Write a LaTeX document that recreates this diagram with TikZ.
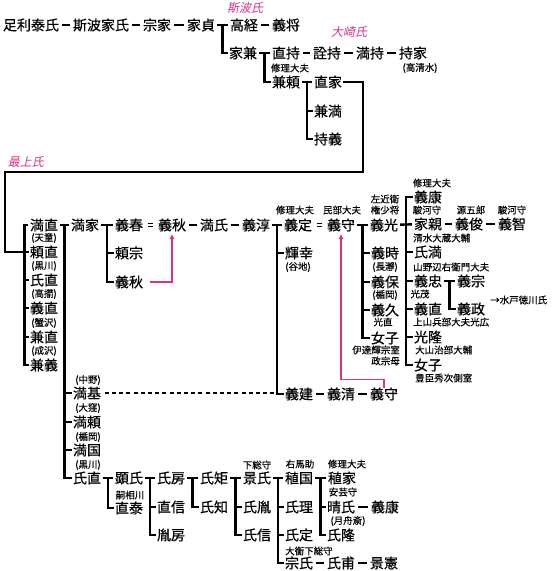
\documentclass[tikz,border=0pt]{standalone}
\usepackage{fontspec}
\setmainfont{Noto Sans CJK JP}
\newfontfamily\namefont[FakeBold=0.5]{Noto Sans CJK JP}
\newfontfamily\notefont[FakeBold=0.3]{Noto Sans CJK JP}
\newfontfamily\clanfont[FakeSlant=0.2]{Noto Sans CJK JP}
\usetikzlibrary{calc,arrows.meta}
\definecolor{clanpink}{RGB}{214,51,132}
\tikzset{
  nm/.style={inner sep=0.5pt, font=\namefont\fontsize{14}{14}\selectfont},
  sm/.style={inner sep=0pt, font=\notefont\fontsize{9.5}{10}\selectfont},
  clan/.style={inner sep=0pt, text=clanpink, font=\clanfont\fontsize{12}{12}\selectfont},
  ln/.style={line width=2.4pt},
  bar/.style={line width=2.4pt, shorten <=1.5pt, shorten >=1.5pt},
  link/.style={line width=2.6pt, shorten <=2.5pt, shorten >=2.5pt},
  adopt/.style={double, double distance=2.2pt, line width=0.7pt, shorten <=4pt, shorten >=4pt},
  pinkln/.style={draw=clanpink, line width=1.2pt},
}

\begin{document}
\begin{tikzpicture}[x=1pt,y=-1pt]
  \useasboundingbox (0,0) rectangle (553,571);

  % Shiba and Osaki
  \node[nm] (yasuUji) at (31,25) {足利泰氏};
  \node[nm] (ieUji) at (101,25) {斯波家氏};
  \node[nm] (muneIe) at (157,25) {宗家};
  \node[nm] (ieSada) at (201,25) {家貞};
  \node[nm] (takaTsune) at (244,25) {高経};
  \node[nm] (yoshiMasa) at (286,25) {義将};
  \node[nm] (ieKane) at (243,53) {家兼};
  \node[nm] (naoMochi) at (286,53) {直持};
  \node[nm] (akiMochi) at (327,53) {詮持};
  \node[nm] (mitsuMochi) at (370,53) {満持};
  \node[nm] (mochiIe) at (413,53) {持家};
  \node[nm] (kaneYori) at (286,82) {兼頼};
  \node[nm] (naoIe) at (328,82) {直家};
  \node[nm] (kaneMitsu) at (328,111) {兼満};
  \node[nm] (mochiYoshi) at (328,139) {持義};
  \node[clan] (shibaLab) at (245,8) {斯波氏};
  \node[clan] (osakiLab) at (349,32) {大崎氏};
  \node[sm] (takaShimizu) at (420,68) {(高清水)};
  \node[sm] (shuriA) at (290,68) {修理大夫};

  % Mogami
  \node[clan] (mogamiLab) at (26,162) {最上氏};
  \node[nm] (mitsuNao) at (44,225) {満直};
  \node[nm] (yoriNao) at (44,252) {頼直};
  \node[nm] (ujiNao) at (44,280) {氏直};
  \node[nm] (yoshiNao) at (44,308) {義直};
  \node[nm] (kaneNao) at (44,337) {兼直};
  \node[nm] (kaneYoshi) at (44,365) {兼義};
  \foreach \y/\lab in {238/天童,266/黒川,294/高擶,323/蟹沢,351/成沢}
    \node[sm] at (44,\y) {(\lab)};
  \node[nm] (mitsuIe) at (85,225) {満家};
  \node[nm] (mitsuMoto) at (87,393) {満基};
  \node[nm] (mitsuYori) at (87,422) {満頼};
  \node[nm] (mitsuKuni) at (87,450) {満国};
  \node[nm] (ujiNaoB) at (87,478) {氏直};
  \foreach \y/\lab in {380/中野,408/大窪,437/楯岡,465/黒川}
    \node[sm] at (88,\y) {(\lab)};
  \node[nm] (yoshiHaru) at (129,225) {義春};
  \node[nm] (yoriMune) at (129,253) {頼宗};
  \node[nm] (yoshiAkiB) at (129,282) {義秋};
  \node[nm] (yoshiAki) at (172,225) {義秋};
  \node[nm] (mitsuUji) at (214,225) {満氏};
  \node[nm] (yoshiAtsu) at (256,225) {義淳};
  \node[nm] (yoshiSada) at (298,225) {義定};
  \node[nm] (yoshiMori) at (341,225) {義守};
  \node[nm] (yoshiAkiM) at (384,225) {義光};
  \node[nm] (teruYuki) at (299,253) {輝幸};
  \node[sm] at (298,267) {(谷地)};
  \node[nm] (yoshiTate) at (299,394) {義建};
  \node[nm] (yoshiKiyo) at (341,394) {義清};
  \node[nm] (yoshiMoriB) at (384,394) {義守};
  \node[sm] at (295,210) {修理大夫};
  \node[sm] at (342,210) {民部大夫};
  \node[sm] at (385,199) {左近衛};
  \node[sm] at (385,210) {権少将};

  \node[nm] (yoshiToki) at (385,253) {義時};
  \node[nm] (yoshiYasu) at (385,282) {義保};
  \node[nm] (yoshiHisa) at (385,310) {義久};
  \node[nm] (joshiA) at (385,338) {女子};
  \node[sm] at (385,267) {(長瀞)};
  \node[sm] at (385,295) {(楯岡)};
  \node[sm] at (383,322) {光直};
  \node[sm, anchor=east] at (400,350) {伊達輝宗室};
  \node[sm, anchor=east] at (400,361) {政宗母};

  \node[nm] (yoshiYasuA) at (428,197) {義康};
  \node[nm] (ieChika) at (428,224) {家親};
  \node[nm] (yoshiToshi) at (469,224) {義俊};
  \node[nm] (yoshiTomo) at (512,224) {義智};
  \node[nm] (ujiMitsu) at (428,252) {氏満};
  \node[nm] (yoshiTada) at (428,281) {義忠};
  \node[nm] (yoshiNaoB) at (428,309) {義直};
  \node[nm] (mitsuTaka) at (428,337) {光隆};
  \node[nm] (joshiB) at (428,365) {女子};
  \node[nm] (yoshiMune) at (471,281) {義宗};
  \node[nm] (yoshiMasaB) at (471,309) {義政};
  \node[sm] at (432,183) {修理大夫};
  \node[sm] at (427,210) {駿河守};
  \node[sm] at (471,210) {源五郎};
  \node[sm] at (512,210) {駿河守};
  \node[sm, anchor=west] at (413,238) {清水大蔵大輔};
  \node[sm, anchor=west] at (413,267) {山野辺右衛門大夫};
  \node[sm] at (420,294) {光茂};
  \node[sm, anchor=west] at (413,322) {上山兵部大夫光広};
  \node[sm, anchor=west] at (415,350) {大山治部大輔};
  \node[sm, anchor=west] at (415,378) {豊臣秀次側室};
  \node[sm, anchor=west] at (490,300) {→水戸徳川氏};

  % Kuroda line
  \node[nm] (akiUji) at (129,478) {顕氏};
  \node[nm] (naoYasu) at (129,508) {直泰};
  \node[sm] at (130,495) {嗣相川};
  \node[nm] (ujiFusa) at (171,478) {氏房};
  \node[nm] (naoNobu) at (171,507) {直信};
  \node[nm] (taneFusa) at (171,535) {胤房};
  \node[nm] (ujiNori) at (214,478) {氏矩};
  \node[nm] (ujiTomo) at (214,507) {氏知};
  \node[nm] (kageUji) at (257,478) {景氏};
  \node[nm] (ujiTane) at (257,507) {氏胤};
  \node[nm] (ujiNobu) at (257,535) {氏信};
  \node[sm] at (257,465) {下総守};
  \node[nm] (taneKuni) at (299,478) {稙国};
  \node[nm] (ujiMasa) at (299,507) {氏理};
  \node[nm] (ujiSada) at (299,535) {氏定};
  \node[nm] (muneUji) at (299,563) {宗氏};
  \node[nm] (ujiSuke) at (341,563) {氏甫};
  \node[nm] (kageNori) at (384,563) {景憲};
  \node[sm] at (300,464) {右馬助};
  \node[sm, anchor=west] at (285,551) {大衡下総守};
  \node[nm] (taneIe) at (342,478) {稙家};
  \node[nm] (haruUji) at (341,507) {晴氏};
  \node[nm] (yoshiYasuB) at (385,507) {義康};
  \node[nm] (ujiTaka) at (341,535) {氏隆};
  \node[sm] at (347,464) {修理大夫};
  \node[sm] at (343,492) {安芸守};
  \node[sm] at (348,521) {(月舟斎)};

  % single line descent
  \foreach \a/\b in {yasuUji/ieUji,ieUji/muneIe,muneIe/ieSada,takaTsune/yoshiMasa,
      naoMochi/akiMochi,akiMochi/mitsuMochi,mitsuMochi/mochiIe,yoshiAki/mitsuUji,
      mitsuUji/yoshiAtsu,yoshiTate/yoshiKiyo,yoshiKiyo/yoshiMoriB,ieChika/yoshiToshi,
      yoshiToshi/yoshiTomo,muneUji/ujiSuke,ujiSuke/kageNori,haruUji/yoshiYasuB}
    \draw[link] (\a) -- (\b);
  \draw[adopt] (yoshiHaru) -- (yoshiAki);
  \draw[adopt] (yoshiSada) -- (yoshiMori);

  % siblings
  \coordinate (tSada) at ($(ieSada.east)!.5!(takaTsune.west)$);
  \draw[bar] (ieSada) -- (takaTsune);
  \draw[ln] (tSada) |- (ieKane);

  \coordinate (tKane) at ($(ieKane.east)!.5!(naoMochi.west)$);
  \draw[bar] (ieKane) -- (naoMochi);
  \draw[ln] (tKane) |- (kaneYori);

  \coordinate (tYori) at ($(kaneYori.east)!.5!(naoIe.west)$);
  \draw[bar] (kaneYori) -- (naoIe);
  \draw[ln] (tYori) |- (mochiYoshi);
  \draw[ln] (tYori |- kaneMitsu) -- (kaneMitsu);

  \coordinate (gMogami) at ([xshift=-5pt]mitsuNao.west);
  \draw[ln] (naoIe) -| (363,172) -| (5,200) |- (yoriNao);
  \draw[ln] ([xshift=-1pt]mitsuNao.west) -- (gMogami) |- (kaneYoshi);
  \foreach \c in {ujiNao,yoshiNao,kaneNao}
    \draw[ln] (gMogami |- \c) -- (\c);

  \coordinate (tNao) at ($(mitsuNao.east)!.5!(mitsuIe.west)$);
  \draw[bar] (mitsuNao) -- (mitsuIe);
  \draw[ln] (tNao) |- (ujiNaoB);
  \foreach \c in {mitsuMoto,mitsuYori,mitsuKuni}
    \draw[ln] (tNao |- \c) -- (\c);

  \coordinate (tIe) at ($(mitsuIe.east)!.5!(yoshiHaru.west)$);
  \draw[bar] (mitsuIe) -- (yoshiHaru);
  \draw[ln] (tIe) |- (yoshiAkiB);
  \draw[ln] (tIe |- yoriMune) -- (yoriMune);

  \coordinate (tAtsu) at ($(yoshiAtsu.east)!.5!(yoshiSada.west)$);
  \draw[bar] (yoshiAtsu) -- (yoshiSada);
  \draw[ln] (tAtsu) |- (yoshiTate);
  \draw[ln] (tAtsu |- teruYuki) -- (teruYuki);
  \draw[line width=1.6pt, dash pattern=on 4pt off 3.2pt, shorten <=3pt] (mitsuMoto) -- (tAtsu |- mitsuMoto);

  \coordinate (tMori) at ($(yoshiMori.east)!.5!(yoshiAkiM.west)$);
  \draw[bar] (yoshiMori) -- (yoshiAkiM);
  \draw[ln] (tMori) |- (joshiA);
  \foreach \c in {yoshiToki,yoshiYasu,yoshiHisa}
    \draw[ln] (tMori |- \c) -- (\c);

  \coordinate (tMitsu) at ($(yoshiAkiM.east)!.5!(ieChika.west)$);
  \draw[bar] (yoshiAkiM) -- (ieChika);
  \draw[ln] (yoshiYasuA) -| (tMitsu |- joshiB) -- (joshiB);
  \foreach \c in {ujiMitsu,yoshiTada,yoshiNaoB,mitsuTaka}
    \draw[ln] (tMitsu |- \c) -- (\c);

  \coordinate (tTada) at ($(yoshiTada.east)!.5!(yoshiMune.west)$);
  \draw[bar] (yoshiTada) -- (yoshiMune);
  \draw[ln] (tTada) |- (yoshiMasaB);

  \coordinate (tUji) at ($(ujiNaoB.east)!.5!(akiUji.west)$);
  \draw[bar] (ujiNaoB) -- (akiUji);
  \draw[ln] (tUji) |- (naoYasu);

  \coordinate (tAki) at ($(akiUji.east)!.5!(ujiFusa.west)$);
  \draw[bar] (akiUji) -- (ujiFusa);
  \draw[ln] (tAki) |- (taneFusa);
  \draw[ln] (tAki |- naoNobu) -- (naoNobu);

  \coordinate (tFusa) at ($(ujiFusa.east)!.5!(ujiNori.west)$);
  \draw[bar] (ujiFusa) -- (ujiNori);
  \draw[ln] (tFusa) |- (ujiTomo);

  \coordinate (tNori) at ($(ujiNori.east)!.5!(kageUji.west)$);
  \draw[bar] (ujiNori) -- (kageUji);
  \draw[ln] (tNori) |- (ujiNobu);
  \draw[ln] (tNori |- ujiTane) -- (ujiTane);

  \coordinate (tKage) at ($(kageUji.east)!.5!(taneKuni.west)$);
  \draw[bar] (kageUji) -- (taneKuni);
  \draw[ln] (tKage) |- (muneUji);
  \foreach \c in {ujiMasa,ujiSada}
    \draw[ln] (tKage |- \c) -- (\c);

  \coordinate (tKuni) at ($(taneKuni.east)!.5!(taneIe.west)$);
  \draw[bar] (taneKuni) -- (taneIe);
  \draw[ln] (tKuni) |- (ujiTaka);
  \draw[ln] (tKuni |- haruUji) -- (haruUji);

  % adoptions
  \draw[pinkln, -{Triangle[length=5pt,width=4.5pt]}, shorten <=6pt, shorten >=2pt]
    (yoshiAkiB.east) -| (yoshiAki.south);
  \draw[pinkln, -{Triangle[length=5pt,width=4.5pt]}, shorten >=2pt]
    ([yshift=-1pt]yoshiMoriB.north) -- ++(0,-8) -| (yoshiMori.south);
\end{tikzpicture}
\end{document}
